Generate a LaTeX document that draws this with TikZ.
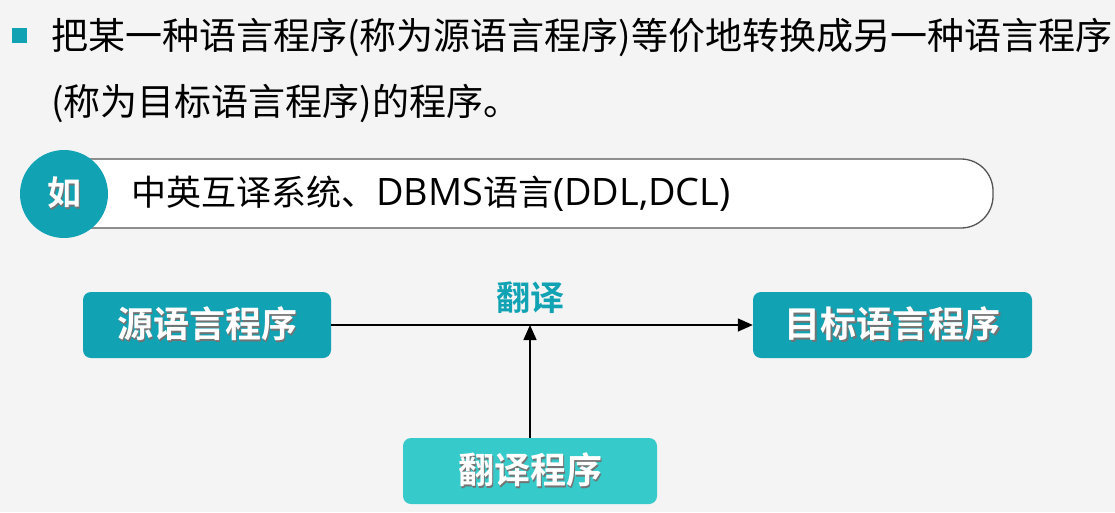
\documentclass[tikz,border=0pt]{standalone}
\usepackage{fontspec}
\setmainfont{Noto Sans CJK SC}
\newfontfamily\cjkbold{Noto Sans CJK SC Bold}
\newfontfamily\latinf[Scale=1.08]{Open Sans}
\usetikzlibrary{arrows.meta}
\definecolor{bgc}{HTML}{F4F4F4}
\definecolor{teal1}{HTML}{11A3B4}
\definecolor{teal2}{HTML}{36CACA}
\definecolor{pillline}{HTML}{555555}
\newcommand\shtext[1]{\rlap{\kern1.8pt\raisebox{-1.8pt}{\textcolor{black!55}{#1}}}#1}
\tikzset{
  maintext/.style={anchor=west, inner sep=0pt, text=black, font=\fontsize{37}{44}\selectfont},
  boxbase/.style={rounded corners=8pt, minimum height=66pt, inner sep=0pt, text=white,
     font=\cjkbold\fontsize{36}{42}\selectfont},
  darkbox/.style={boxbase, fill=teal1},
  lightbox/.style={boxbase, fill=teal2},
  conn/.style={line width=1.5pt, -{Triangle[length=15pt,width=13pt]}},
}
\begin{document}
\begin{tikzpicture}[x=1pt,y=-1pt]
\useasboundingbox (0,0) rectangle (1115,512);
\fill[bgc] (0,0) rectangle (1115,512);
% bullet
\node[fill=teal1, minimum size=15pt, inner sep=0pt] (bullet) at (19,35) {};
\node[maintext] (line1) at (51,37) {把某一种语言程序(称为源语言程序)等价地转换成另一种语言程序};
\node[maintext] (line2) at (51,103) {(称为目标语言程序)的程序。};
% pill
\draw[pillline, line width=1.3pt, fill=white, rounded corners=32pt] (60,159) -- (993,159) -- (993,228) -- (60,228);
\node[circle, fill=teal1, minimum size=88pt, inner sep=0pt, text=white,
      font=\cjkbold\fontsize{34}{40}\selectfont] (ru) at (64,194) {\shtext{如}};
\node[anchor=west, inner sep=0pt, font=\fontsize{35}{40}\selectfont] (example) at (131,194)
  {中英互译系统、{\latinf DBMS}语言{\latinf (DDL,DCL)}};
% diagram
\node[darkbox, minimum width=248pt] (src) at (207,325) {\shtext{源语言程序}};
\node[darkbox, minimum width=279pt] (tgt) at (892.5,325) {\shtext{目标语言程序}};
\node[lightbox, minimum width=254pt] (prog) at (530,471) {\shtext{翻译程序}};
\coordinate (mid) at (530,325);
\node[text=teal1, font=\cjkbold\fontsize{34}{40}\selectfont, inner sep=0pt] (fanyi) at (530,298) {翻译};
\draw[conn] (src.east) -- (tgt.west);
\draw[conn] (prog.north) -- (mid);
\end{tikzpicture}
\end{document}
